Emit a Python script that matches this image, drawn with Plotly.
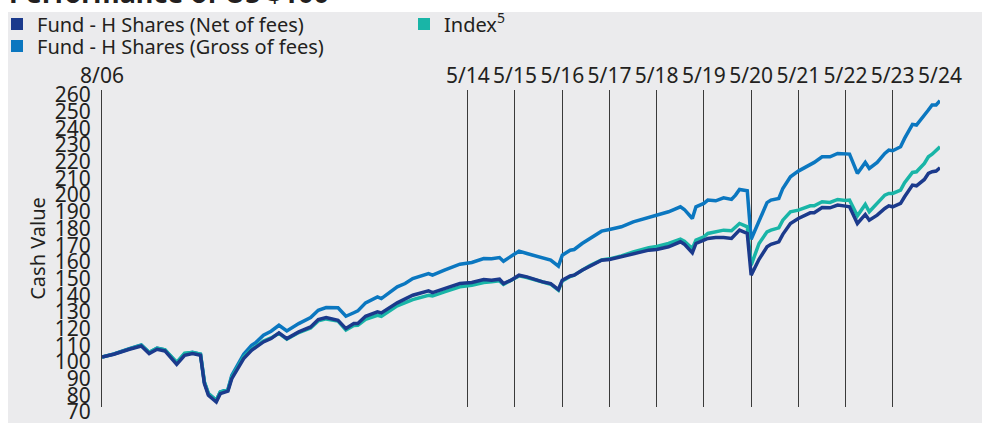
import plotly.graph_objects as go

# ---- data ----
dates = [
    "2006-08", "2006-11", "2007-03", "2007-06", "2007-08", "2007-10", "2007-12",
    "2008-03", "2008-05", "2008-07", "2008-09", "2008-10", "2008-11", "2009-01",
    "2009-02", "2009-04", "2009-05", "2009-07", "2009-08", "2009-10", "2009-11",
    "2010-01", "2010-03", "2010-05", "2010-07", "2010-10", "2011-01", "2011-03",
    "2011-05", "2011-08", "2011-10", "2011-12", "2012-01", "2012-03", "2012-06",
    "2012-07", "2012-11", "2013-01", "2013-03", "2013-07", "2013-08", "2013-11",
    "2014-03", "2014-06", "2014-09", "2014-11", "2015-01", "2015-02", "2015-04",
    "2015-06", "2015-08", "2015-12", "2016-02", "2016-04", "2016-05", "2016-07",
    "2016-08", "2016-10", "2016-12", "2017-03", "2017-05", "2017-08", "2017-11",
    "2018-03", "2018-05", "2018-08", "2018-11", "2018-12", "2019-02", "2019-03",
    "2019-05", "2019-06", "2019-08", "2019-10", "2019-12", "2020-01", "2020-02",
    "2020-04", "2020-05", "2020-07", "2020-09", "2020-10", "2020-12", "2021-01",
    "2021-03", "2021-05", "2021-08", "2021-09", "2021-11", "2022-01", "2022-03",
    "2022-05", "2022-06", "2022-08", "2022-10", "2022-11", "2023-01", "2023-03",
    "2023-04", "2023-05", "2023-07", "2023-08", "2023-10", "2023-11", "2024-01",
    "2024-02", "2024-03", "2024-04", "2024-05",
]

net = [
    100, 101.6, 104.6, 106.6, 102, 104.6, 103.6,
    95.6, 101, 102, 101, 84, 77, 73,
    78, 79.5, 87, 95, 99, 104, 105.5,
    109, 111, 114.4, 111, 115, 118, 122.4,
    123.6, 122, 117, 120, 120, 124.4, 127,
    126.4, 132.4, 135, 137, 139.6, 138.6, 141,
    144, 144.6, 146.4, 146, 146.6, 144, 146,
    149, 148, 145, 144, 140.4, 146, 148.5,
    149, 152, 154.6, 158, 158.4, 160, 162,
    164, 164.4, 166, 169, 167.6, 162.4, 168,
    170, 171, 171.6, 171.6, 171, 173.4, 176,
    174, 149, 158.5, 166, 167.5, 169, 173.5,
    180, 183, 186.4, 186.4, 189.6, 189.4, 191,
    190.4, 190, 180, 185.4, 182, 185, 189,
    190.6, 190, 192, 196, 203, 202.6, 206.4,
    210, 211, 211.4, 213.4,
]

gross = [
    100, 101.8, 105, 107.2, 102.6, 105.3, 104.3,
    96.4, 101.8, 102.8, 101.6, 85, 78, 74,
    79, 80.5, 89, 97.5, 101.6, 107, 108.5,
    113, 115.4, 119, 115.6, 120, 123.6, 128,
    129.6, 129.5, 124.4, 126.5, 127.6, 132.4, 136,
    135, 142, 144, 147, 150, 149, 152,
    155.6, 156.6, 159, 158.8, 159.6, 157.4, 160.4,
    163.4, 162, 159, 158, 154.4, 161, 164,
    164.4, 168, 171, 175.4, 176.4, 178, 181,
    183.6, 185, 187, 190, 188.4, 183, 190,
    192, 194, 193.6, 195.4, 194.4, 197, 200.4,
    199.6, 170.5, 182, 192.5, 194, 195, 201,
    208, 211.4, 215.4, 216.6, 220, 220, 222,
    221.6, 221.6, 210, 216.6, 213, 216.6, 222,
    224, 223.6, 226, 231, 239.4, 239, 244.6,
    248, 251, 251, 253.6,
]

index = [
    100, 101.7, 104.8, 107, 102.8, 105.2, 104.2,
    96.8, 102.2, 102.6, 101.6, 85, 78, 74,
    79, 80, 88, 96, 100, 104.5, 106,
    109.5, 111.4, 114.2, 110.6, 114.6, 117.4, 121.6,
    122.8, 121.5, 116.2, 118.8, 119, 122.5, 125,
    124.4, 130.6, 132.5, 134.4, 137, 136.5, 139,
    142, 143, 144.6, 145, 145.6, 143.5, 145.8,
    148.6, 147.6, 144.6, 143.6, 140, 145.6, 148.2,
    149, 152, 154.8, 158.2, 158.8, 160.6, 163,
    165.4, 166.2, 168, 170.6, 169.4, 165, 170,
    172, 174, 175, 176, 175.6, 177.6, 180,
    178, 155, 168, 175, 176, 177.4, 182,
    187, 188, 190.6, 190.6, 193, 192.6, 194.4,
    193.8, 194, 184.6, 191.4, 187, 192, 197,
    198, 198, 200, 204.4, 210.6, 211, 216,
    220, 221.5, 223.5, 226,
]

tick_dates = ["2006-08", "2014-05", "2015-05", "2016-05", "2017-05", "2018-05",
              "2019-05", "2020-05", "2021-05", "2022-05", "2023-05", "2024-05"]
tick_labels = ["8/06", "5/14", "5/15", "5/16", "5/17", "5/18",
               "5/19", "5/20", "5/21", "5/22", "5/23", "5/24"]

names = ["Fund - H Shares (Net of fees)", "Fund - H Shares (Gross of fees)", "Index<sup>5</sup>"]
colors = {"net": "#1b3a8c", "gross": "#0b77c0", "index": "#19b5a7"}

FONT = "Noto Sans, Open Sans, sans-serif"
TXT = "#231f20"
BG = "#ebebed"

W, H = 982, 424
ML, MR, MT, MB = 102, 42, 90, 17
PW, PH = W - ML - MR, H - MT - MB


def px_x(p):
    return (p - ML) / PW


def px_y(p):
    return (H - MB - p) / PH


fig = go.Figure()
# lines (net drawn on top)
fig.add_trace(go.Scatter(x=dates, y=gross, mode="lines", line=dict(color=colors["gross"], width=3.5),
                         showlegend=False, hoverinfo="skip"))
fig.add_trace(go.Scatter(x=dates, y=index, mode="lines", line=dict(color=colors["index"], width=3.5),
                         showlegend=False, hoverinfo="skip"))
fig.add_trace(go.Scatter(x=dates, y=net, mode="lines", line=dict(color=colors["net"], width=3.5),
                         showlegend=False, hoverinfo="skip"))

# legend entries (square swatches), each in its own legend box for exact placement
for nm, key, lg in [(names[0], "net", "legend"), (names[1], "gross", "legend2"), (names[2], "index", "legend3")]:
    fig.add_trace(go.Scatter(x=[None], y=[None], mode="markers", name=nm, legend=lg,
                             marker=dict(symbol="square", size=11, color=colors[key])))

leg_common = dict(orientation="h", xanchor="left", yanchor="middle", bgcolor="rgba(0,0,0,0)",
                  font=dict(family=FONT, size=20, color=TXT), itemsizing="constant")

fig.add_shape(type="rect", xref="paper", yref="paper", layer="below",
              x0=px_x(8), x1=px_x(984), y0=px_y(423), y1=px_y(12),
              fillcolor=BG, line=dict(width=0))

fig.add_annotation(text="<b>Performance of US $100</b>", xref="paper", yref="paper",
                   x=px_x(7), y=px_y(-7), xanchor="left", yanchor="middle", showarrow=False,
                   font=dict(family=FONT, size=27, color=TXT))

fig.update_layout(
    width=W, height=H,
    margin=dict(l=ML, r=MR, t=MT, b=MB, autoexpand=False),
    paper_bgcolor="white",
    plot_bgcolor=BG,
    font=dict(family=FONT, color=TXT, size=20),
    showlegend=True,
    legend=dict(x=px_x(-3), y=px_y(24), **leg_common),
    legend2=dict(x=px_x(-3), y=px_y(46), **leg_common),
    legend3=dict(x=px_x(404), y=px_y(24), **leg_common),
    xaxis=dict(type="date", range=["2006-08-01", "2024-05-01"], side="top",
               tickmode="array", tickvals=tick_dates, ticktext=tick_labels,
               showgrid=True, gridcolor="#3a3a3a", gridwidth=1,
               showline=False, zeroline=False, ticks="", automargin=False,
               ticklabelstandoff=2, ticklabeloverflow="allow",
               tickfont=dict(family=FONT, size=21, color=TXT)),
    yaxis=dict(range=[70, 260], tick0=70, dtick=10, tickmode="linear",
               showgrid=False, zeroline=False, showline=True, linecolor="#3a3a3a", linewidth=1,
               ticks="", ticklabelshift=5, ticklabelstandoff=6, automargin=False,
               ticklabeloverflow="allow",
               tickfont=dict(family=FONT, size=21, color=TXT),
               title=dict(text="Cash Value", standoff=3, font=dict(family=FONT, size=20, color=TXT))),
)

fig.write_html("out.html", config={"displayModeBar": False},
               post_script="document.body.style.margin='0px';")
